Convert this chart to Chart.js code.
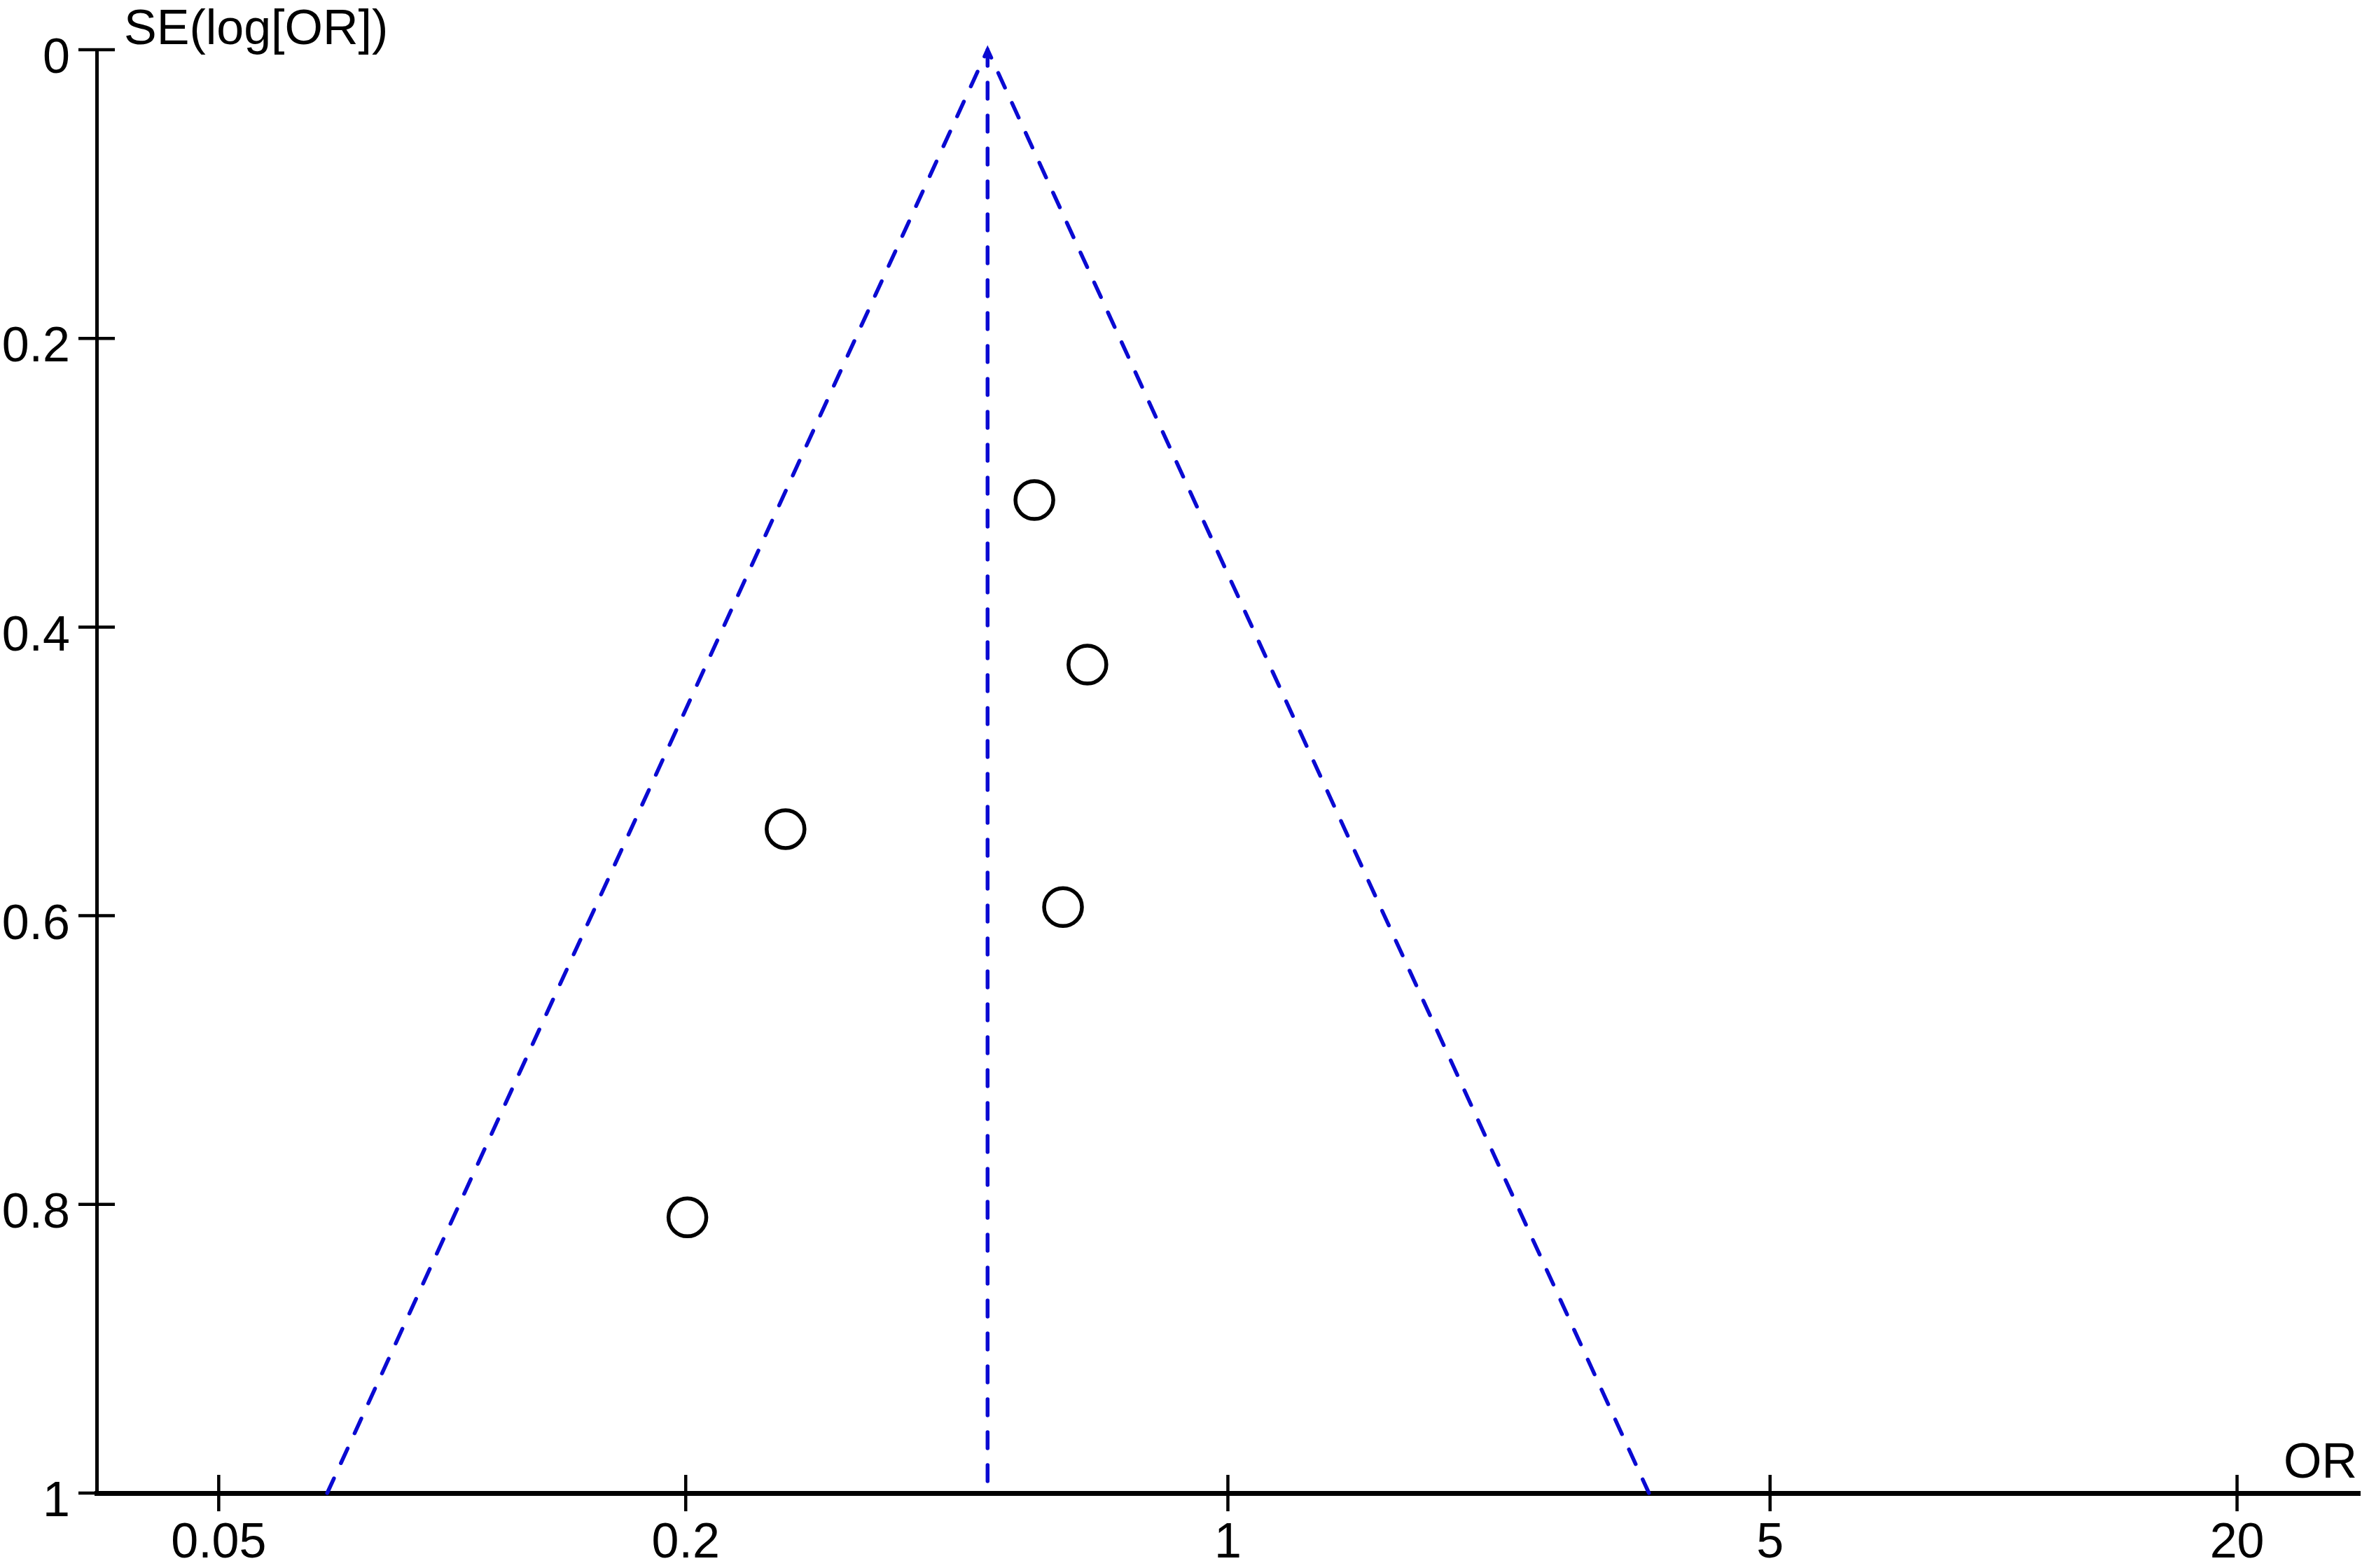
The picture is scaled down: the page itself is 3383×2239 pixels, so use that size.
<!DOCTYPE html>
<html>
<head>
<meta charset="utf-8">
<script src="https://cdn.jsdelivr.net/npm/chart.js@4.4.0/dist/chart.umd.min.js"></script>
<style>
    body { margin: 0; background: #fff; }
</style>
</head>
<body>
<canvas id="canvas" width="3383" height="2239"></canvas>
<script>
// study estimates
const studyOR = [0.563, 0.659, 0.269, 0.613, 0.201];
const studySE = [0.312, 0.426, 0.540, 0.594, 0.809];

// pseudo 95% confidence limits and pooled estimate
const funnelOR = [0.069, 0.49, 3.49];
const funnelSE = [1, 0, 1];
const pooledOR = [0.49, 0.49];
const pooledSE = [0, 1];

const xTicks = [0.05, 0.2, 1, 5, 20];
const xTickLabels = ['0.05', '0.2', '1', '5', '20'];
const yTicks = [0, 0.2, 0.4, 0.6, 0.8, 1];
const yTickLabels = ['0', '0.2', '0.4', '0.6', '0.8', '1'];

const FONT = "'Liberation Sans', Arial, sans-serif";
const FONT_SIZE = 70;
const BLUE = '#0a0ad2';

const toPoints = (xs, ys) => xs.map((x, i) => ({ x, y: ys[i] }));

const tickMarks = {
    id: 'tickMarks',
    afterDraw(chart) {
        const { ctx, chartArea, scales } = chart;
        const half = 26;
        ctx.save();
        ctx.strokeStyle = '#000';
        ctx.lineWidth = 4.5;
        ctx.beginPath();
        yTicks.forEach(v => {
            const y = scales.y.getPixelForValue(v);
            ctx.moveTo(chartArea.left - half, y);
            ctx.lineTo(chartArea.left + half, y);
        });
        xTicks.forEach(v => {
            const x = scales.x.getPixelForValue(v);
            ctx.moveTo(x, chartArea.bottom - half);
            ctx.lineTo(x, chartArea.bottom + half);
        });
        ctx.stroke();

        ctx.fillStyle = '#000';
        ctx.font = `${FONT_SIZE}px ${FONT}`;
        ctx.textBaseline = 'alphabetic';
        ctx.textAlign = 'left';
        ctx.fillText('SE(log[OR])', chartArea.left + 39, 63);
        ctx.textAlign = 'right';
        ctx.fillText('OR', chartArea.right - 4, chartArea.bottom - 22);
        ctx.restore();
    }
};

const dashed = {
    type: 'line',
    borderColor: BLUE,
    borderWidth: 5.5,
    borderDash: [23, 24],
    borderCapStyle: 'round',
    pointRadius: 0,
    fill: false,
    clip: 10,
    order: 2,
};

const chart = new Chart(document.getElementById('canvas'), {
    type: 'scatter',
    data: {
        datasets: [
            { ...dashed, label: 'Funnel', data: toPoints(funnelOR, funnelSE) },
            { ...dashed, label: 'Pooled', data: toPoints(pooledOR, pooledSE) },
            {
                label: 'Studies',
                data: toPoints(studyOR, studySE),
                pointRadius: 27,
                pointBorderWidth: 5.5,
                borderColor: '#000',
                backgroundColor: 'rgba(255,255,255,0)',
                order: 1,
            }
        ],
    },
    plugins: [tickMarks],
    options: {
        responsive: false,
        animation: false,
        devicePixelRatio: 1,
        layout: {
            autoPadding: false,
            padding: { top: 71, right: 13, left: 0, bottom: 0 },
        },
        plugins: {
            legend: { display: false },
            tooltip: { enabled: false },
        },
        scales: {
            x: {
                type: 'logarithmic',
                min: 0.0348,
                max: 28.8,
                afterBuildTicks: axis => {
                    axis.ticks = xTicks.map(value => ({ value }));
                },
                afterFit: axis => {
                    axis.height = 107;
                    axis.paddingLeft = 0;
                    axis.paddingRight = 0;
                },
                ticks: {
                    autoSkip: false,
                    maxRotation: 0,
                    padding: 31,
                    color: '#000',
                    font: { family: FONT, size: FONT_SIZE },
                    callback: (value, index) => xTickLabels[index],
                },
                grid: { display: false, drawTicks: false },
                border: { display: true, color: '#000', width: 7 },
            },
            y: {
                type: 'linear',
                reverse: true,
                min: 0,
                max: 1,
                afterBuildTicks: axis => {
                    axis.ticks = yTicks.map(value => ({ value }));
                },
                afterFit: axis => {
                    axis.width = 138;
                    axis.paddingTop = 0;
                    axis.paddingBottom = 0;
                },
                ticks: {
                    autoSkip: false,
                    padding: 38,
                    labelOffset: 14,
                    color: '#000',
                    font: { family: FONT, size: FONT_SIZE },
                    callback: (value, index) => yTickLabels[index],
                },
                grid: { display: false, drawTicks: false },
                border: { display: true, color: '#000', width: 5 },
            },
        },
    },
});
</script>
</body>
</html>
